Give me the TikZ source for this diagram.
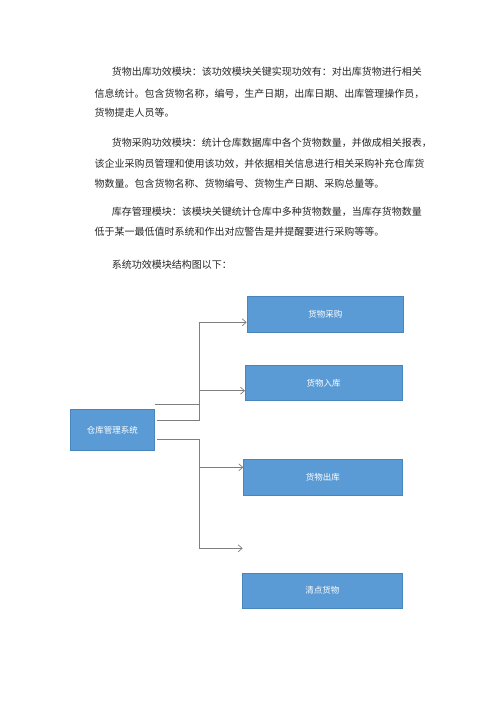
\documentclass[tikz,border=0pt]{standalone}
\usepackage{fontspec}
\newfontfamily\cjk{Noto Sans CJK SC}
\usetikzlibrary{arrows.meta}
\definecolor{boxblue}{HTML}{5B9BD5}
\definecolor{boxedge}{HTML}{4A86BE}
\definecolor{linegray}{HTML}{7F7F7F}
\definecolor{txt}{HTML}{262626}
\tikzset{
  para/.style={anchor=base west, inner sep=0pt, font=\cjk\fontsize{10}{12}\selectfont, text=txt},
  modbox/.style={draw=boxedge, line width=0.6pt, fill=boxblue, anchor=north west, inner sep=0pt,
    text=white, font=\cjk\fontsize{8.5}{10}\selectfont},
  conn/.style={draw=linegray, line width=0.7pt},
  arr/.style={conn, -{Straight Barb[length=4pt,width=7pt,line width=0.7pt]}}
}
\begin{document}
\begin{tikzpicture}[x=1pt,y=-1pt]
\useasboundingbox (0,0) rectangle (500,707);
% paragraphs
\node[para] (p1) at (111.7,75.5) {货物出库功效模块：该功效模块关键实现功效有：对出库货物进行相关};
\node[para] (p2) at (94.3,97.1) {信息统计。包含货物名称，编号，生产日期，出库日期、出库管理操作员，};
\node[para] (p3) at (94.3,116.5) {货物提走人员等。};
\node[para] (p4) at (111.7,146.5) {货物采购功效模块：统计仓库数据库中各个货物数量，并做成相关报表，};
\node[para] (p5) at (94.3,167.1) {该企业采购员管理和使用该功效，并依据相关信息进行相关采购补充仓库货};
\node[para] (p6) at (94.3,187.1) {物数量。包含货物名称、货物编号、货物生产日期、采购总量等。};
\node[para] (p7) at (111.7,215.5) {库存管理模块：该模块关键统计仓库中多种货物数量，当库存货物数量};
\node[para] (p8) at (94.3,235.5) {低于某一最低值时系统和作出对应警告是并提醒要进行采购等等。};
\node[para] (p9) at (111.7,268.8) {系统功效模块结构图以下：};
% boxes
\node[modbox, minimum width=84pt, minimum height=40.7pt] (sys) at (70,409.3) {仓库管理系统};
\node[modbox, minimum width=156.6pt, minimum height=35.7pt] (cg) at (246.7,296) {货物采购};
\node[modbox, minimum width=156.7pt, minimum height=35pt] (rk) at (245,365) {货物入库};
\node[modbox, minimum width=158.4pt, minimum height=35.7pt] (ck) at (243.3,459.3) {货物出库};
\node[modbox, minimum width=159.4pt, minimum height=35pt] (qd) at (242.3,572.7) {清点货物};
% connectors
\coordinate (s1) at ([yshift=5pt]sys.north east);
\coordinate (s2) at ([yshift=-10.7pt]sys.north east);
\coordinate (s3) at ([yshift=-30pt]sys.north east);
\coordinate (free) at (242.7,548.3);
\draw[arr] (s1) -- (199,404.3) -- (199,322.3) -- (cg.west |- 0,322.3);
\draw[arr] ([xshift=2pt]s2) -- (199,420) -- (199,390.7) -- (rk.west |- 0,390.7);
\draw[arr] ([xshift=2pt]s3) -- (199.3,439.3) -- (199.3,467.3) -- (ck.west |- 0,467.3);
\draw[arr] (199.3,460) -- (199.3,548.3) -- (free);
\end{tikzpicture}
\end{document}
